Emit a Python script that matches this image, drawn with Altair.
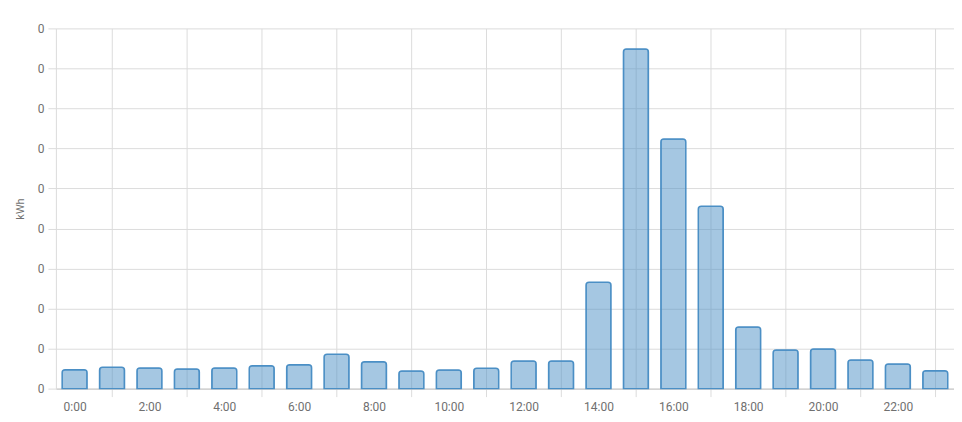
import altair as alt
import pandas as pd

hours = list(range(24))
energy_kwh = [0.0237, 0.0266, 0.0258, 0.0246, 0.0258, 0.0287, 0.0299, 0.0428,
              0.0337, 0.0221, 0.0233, 0.0253, 0.0345, 0.0345, 0.1330, 0.4243,
              0.3117, 0.2278, 0.0769, 0.0483, 0.0495, 0.0358, 0.0308, 0.0224]
y_ticks = [0, 0.05, 0.1, 0.15, 0.2, 0.25, 0.3, 0.35, 0.4, 0.45]

df = pd.DataFrame({"hour": hours, "kwh": energy_kwh})

odd = {"condition": {"test": "datum.value % 2 == 1", "value": 1}, "value": 0}

chart = alt.Chart(df).mark_bar(
    size=25,
    color="#4b8fc5",
    fillOpacity=0.5,
    stroke="#4b8fc5",
    strokeWidth=1.5,
    cornerRadiusTopLeft=3,
    cornerRadiusTopRight=3,
).encode(
    x=alt.X("hour:Q",
            scale=alt.Scale(domain=[-0.5, 23.5], nice=False, zero=False, padding=0),
            axis=alt.Axis(values=hours, title=None,
                          labelExpr="datum.value % 2 == 0 ? datum.value + ':00' : ''",
                          gridOpacity=odd, tickOpacity=odd,
                          tickSize=8, labelPadding=5, labelFlush=False,
                          domainColor="#c4c4c4", gridColor="#dcdcdc", tickColor="#dcdcdc")),
    y=alt.Y("kwh:Q",
            scale=alt.Scale(domain=[0, 0.45], nice=False),
            axis=alt.Axis(values=y_ticks, format=".0f", title="kWh",
                          tickSize=8, labelPadding=4, titlePadding=12,
                          domainColor="#dcdcdc", gridColor="#dcdcdc", tickColor="#dcdcdc",
                          titleFontWeight="normal", titleFontSize=11, titleColor="#707070")),
).properties(
    width=900, height=361,
    autosize=alt.AutoSizeParams(type="none"),
    padding={"left": 48, "top": 20, "right": 0, "bottom": 25},
).configure_view(stroke=None).configure_axis(
    labelFont="Roboto", titleFont="Roboto", labelFontSize=12, labelColor="#707070",
    labelFlush=False,
)

chart.save("out.html", embed_options={"renderer": "svg", "actions": False})
